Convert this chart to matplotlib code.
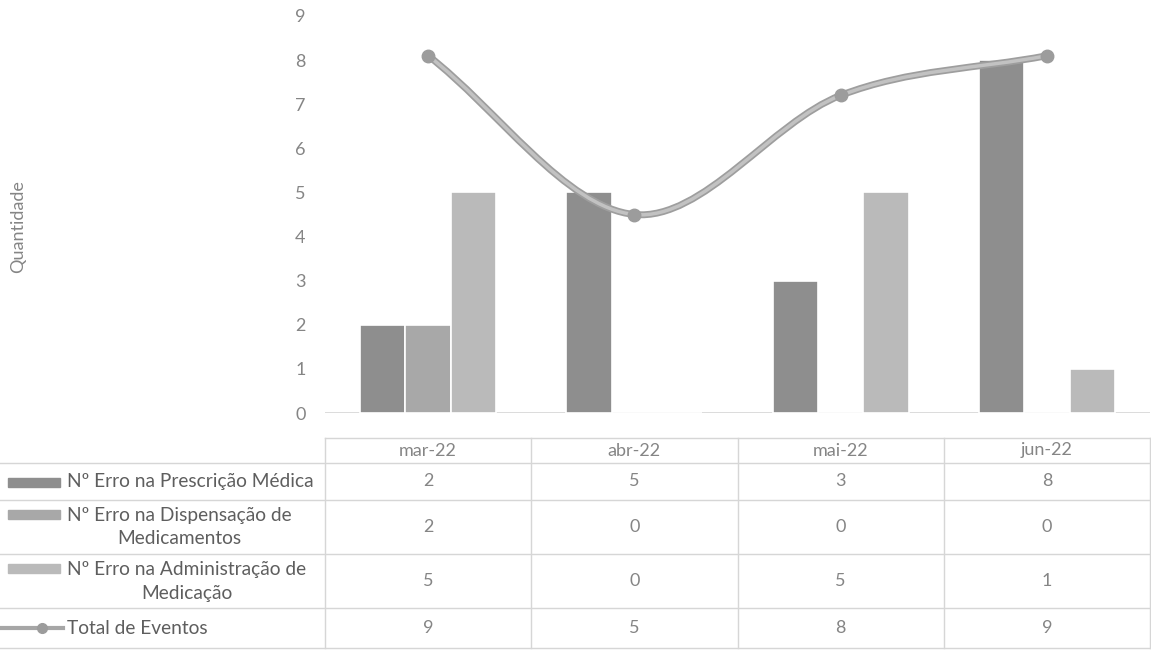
import matplotlib.pyplot as plt
import numpy as np
from matplotlib.path import Path
from matplotlib.patches import PathPatch, Rectangle
from matplotlib.lines import Line2D
from matplotlib import transforms

plt.rcParams['font.family'] = ['Lato', 'DejaVu Sans']

months = ['mar-22', 'abr-22', 'mai-22', 'jun-22']
prescricao = [2, 5, 3, 8]
dispensacao = [2, 0, 0, 0]
administracao = [5, 0, 5, 1]
total = [9, 5, 8, 9]

series_names = ['Nº Erro na Prescrição Médica',
                'Nº Erro na Dispensação de\nMedicamentos',
                'Nº Erro na Administração de\nMedicação',
                'Total de Eventos']
bar_colors = ['#8e8e8e', '#a8a8a8', '#bababa']
line_color = '#a6a6a6'
txt_dark = '#5e5e5e'
txt_light = '#858585'
grid_c = '#d6d6d6'

W, H = 1151, 652
fig = plt.figure(figsize=(W / 100, H / 100), dpi=100)

# overlay in pixel coords for the data table
ov = fig.add_axes([0, 0, 1, 1])
ov.set_xlim(0, W)
ov.set_ylim(H, 0)
ov.axis('off')

# main chart area (pixels: x 325..1150, y 16..413)
ax = fig.add_axes([325 / W, (H - 413) / H, 825 / W, 397 / H])
ax.set_zorder(2)
ax.patch.set_alpha(0)
x = np.arange(len(months))
bw = 0.22
for k, vals in enumerate([prescricao, dispensacao, administracao]):
    ax.bar(x + (k - 1) * bw, vals, bw, color=bar_colors[k],
           edgecolor='white', linewidth=1.2, zorder=2)
ax.set_xlim(-0.5, len(months) - 0.5)
ax.set_ylim(0, 9)
ax.set_yticks(range(10))
ax.tick_params(axis='y', length=0, pad=14, labelsize=13, labelcolor=txt_light)
ax.set_xticks([])
for s in ax.spines.values():
    s.set_visible(False)
ax.axhline(0, color=grid_c, lw=1.2, zorder=1)
ax.set_ylabel('Quantidade', fontsize=13, color=txt_light)
ax.yaxis.set_label_coords(-0.362, 0.47)

# total line on hidden secondary axis (0..10), smoothed like Excel
ax2 = ax.twinx()
ax2.set_ylim(0, 10)
ax2.axis('off')
ax2.set_zorder(3)
pts = np.column_stack([x, total]).astype(float)
n = len(pts)
tang = np.zeros_like(pts)
for i in range(n):
    a = pts[max(i - 1, 0)]
    b = pts[min(i + 1, n - 1)]
    tang[i] = (b - a) / (2 if 0 < i < n - 1 else 1)
verts = [pts[0]]
codes = [Path.MOVETO]
for i in range(n - 1):
    verts += [pts[i] + tang[i] / 3, pts[i + 1] - tang[i + 1] / 3, pts[i + 1]]
    codes += [Path.CURVE4] * 3
ax2.add_patch(PathPatch(Path(verts, codes), fill=False, edgecolor='#9e9e9e', lw=5))
ax2.add_patch(PathPatch(Path(verts, codes), fill=False, edgecolor='#c2c2c2', lw=2.5))
ax2.plot(x, total, 'o', color='#9c9c9c', markersize=9, zorder=4)

# data table
tr = transforms.blended_transform_factory(ax.transData, ov.transData)
row_edges = [438, 463, 500, 554, 608, 648]
row_centers = [(row_edges[i] + row_edges[i + 1]) / 2 for i in range(len(row_edges) - 1)]

ov.plot([325, 1150], [row_edges[0]] * 2, color=grid_c, lw=1)
for yy in row_edges[1:]:
    ov.plot([0, 1150], [yy, yy], color=grid_c, lw=1)
for xb in np.arange(len(months) + 1) - 0.5:
    ov.plot([xb, xb], [row_edges[0], row_edges[-1]], color=grid_c, lw=1, transform=tr)

for i, m in enumerate(months):
    ov.text(i, row_centers[0], m, transform=tr, ha='center', va='center',
            fontsize=13, color=txt_light)
table_rows = [prescricao, dispensacao, administracao, total]
for r, vals in enumerate(table_rows):
    yc = row_centers[r + 1]
    for i, v in enumerate(vals):
        ov.text(i, yc, str(v), transform=tr, ha='center', va='center',
                fontsize=13, color=txt_light)
    ov.text(67, yc, series_names[r], ha='left', va='center', multialignment='center',
            fontsize=13.8, color=txt_dark, linespacing=1.5)
    if r < 3:
        first_line = yc - (13 if '\n' in series_names[r] else 0)
        ov.add_patch(Rectangle((8, first_line - 4), 52, 9, color=bar_colors[r]))
    else:
        ov.add_line(Line2D([0, 63], [yc, yc], color=line_color, lw=3))
        ov.plot([42], [yc], 'o', color='#9c9c9c', markersize=7)

fig.savefig('out.png', dpi=100)
